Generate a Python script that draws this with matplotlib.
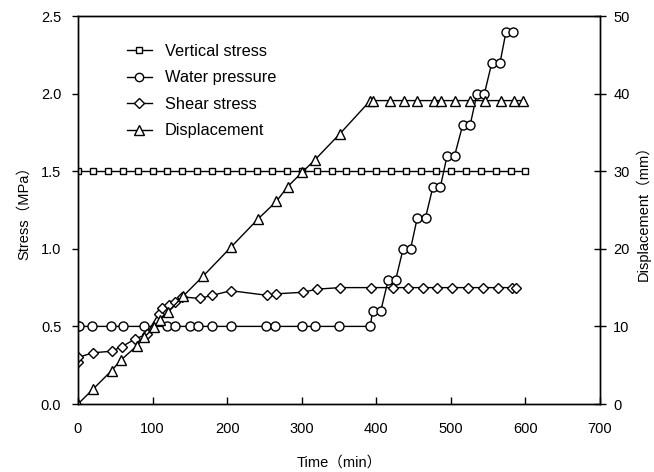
import matplotlib
matplotlib.use("Agg")
import matplotlib.pyplot as plt
from matplotlib.lines import Line2D

plt.rcParams['font.family'] = ['Liberation Sans', 'Noto Sans CJK SC', 'DejaVu Sans']

# Vertical stress (MPa)
vs_t = [0, 20, 40, 60, 80, 100, 120, 140, 160, 180, 200, 220, 240, 260, 280, 300,
        320, 340, 360, 380, 400, 420, 440, 460, 480, 500, 520, 540, 560, 580, 600]
vs_v = [1.5] * 31

# Water pressure (MPa)
wp_t = [0, 2, 19, 44, 60, 88, 120, 130, 150, 161, 180, 205, 252, 264, 300, 318, 350,
        392, 395, 406, 416, 426, 436, 446, 455, 466, 476, 486, 495, 505, 516, 526,
        535, 545, 555, 566, 574, 584]
wp_v = [0.5, 0.5, 0.5, 0.5, 0.5, 0.5, 0.5, 0.5, 0.5, 0.5, 0.5, 0.5, 0.5, 0.5, 0.5, 0.5, 0.5,
        0.5, 0.6, 0.6, 0.8, 0.8, 1.0, 1.0, 1.2, 1.2, 1.4, 1.4, 1.6, 1.6, 1.8, 1.8,
        2.0, 2.0, 2.2, 2.2, 2.4, 2.4]

# Shear stress (MPa)
ss_t = [0, 0, 20, 45, 59, 77, 92, 108, 112, 122, 130, 140, 163, 180, 205, 254, 266,
        302, 320, 352, 393, 423, 443, 462, 482, 502, 523, 543, 563, 582, 588]
ss_v = [0.27, 0.30, 0.33, 0.34, 0.37, 0.42, 0.45, 0.58, 0.62, 0.64, 0.66, 0.69, 0.68,
        0.70, 0.73, 0.70, 0.71, 0.72, 0.74, 0.75, 0.75, 0.75, 0.75, 0.75, 0.75, 0.75,
        0.75, 0.75, 0.75, 0.75, 0.75]

# Displacement (mm)
dp_t = [0, 20, 45, 58, 79, 89, 102, 110, 121, 141, 168, 205, 242, 266, 281, 301, 318,
        351, 392, 396, 418, 437, 455, 477, 487, 505, 526, 546, 567, 585, 597]
dp_v = [0, 1.9, 4.3, 5.7, 7.5, 8.6, 9.9, 10.8, 11.9, 13.9, 16.5, 20.2, 23.9, 26.1, 28.0,
        29.9, 31.5, 34.8, 39.1, 39.1, 39.1, 39.1, 39.1, 39.1, 39.1, 39.1, 39.1, 39.1,
        39.1, 39.1, 39.1]

labels = ['Vertical stress', 'Water pressure', 'Shear stress', 'Displacement']

fig = plt.figure(figsize=(6.54, 4.72), dpi=100)
ax = fig.add_axes([78/654, 1-404/472, (600-78)/654, (404-16)/472])
ax2 = ax.twinx()

kw = dict(color='black', lw=1.0, mfc='white', mec='black', mew=1.0)
h1, = ax.plot(vs_t, vs_v, marker='s', ms=4.5, **kw)
h2, = ax.plot(wp_t, wp_v, marker='o', ms=6.5, **kw)
h3, = ax.plot(ss_t, ss_v, marker='D', ms=5.5, **kw)
h4, = ax2.plot(dp_t, dp_v, marker='^', ms=7.5, **kw)

ax.set_xlim(0, 700)
ax.set_ylim(0, 2.5)
ax2.set_ylim(0, 50)
ax.set_xticks([0, 100, 200, 300, 400, 500, 600, 700])
ax.set_yticks([0, 0.5, 1.0, 1.5, 2.0, 2.5])
ax.set_yticklabels(['0.0', '0.5', '1.0', '1.5', '2.0', '2.5'])
ax2.set_yticks([0, 10, 20, 30, 40, 50])

ax.tick_params(axis='x', direction='in', length=5, labelsize=10.5, pad=13, width=1)
ax.tick_params(axis='y', direction='out', length=4, labelsize=10.5, pad=8, width=1)
ax2.tick_params(axis='y', direction='inout', length=9, labelsize=10.5, pad=5, width=1)
for a in (ax, ax2):
    for s in a.spines.values():
        s.set_linewidth(1.0)

ax.set_xlabel('Time（min）', fontsize=10.5, labelpad=14)
ax.set_ylabel('Stress（MPa）', fontsize=10.5, labelpad=7)
ax2.set_ylabel('Displacement（mm）', fontsize=10.5, labelpad=4)

leg_handles = [
    Line2D([], [], color='black', lw=1, marker='s', ms=4, mfc='white', mec='black'),
    Line2D([], [], color='black', lw=1, marker='o', ms=6, mfc='white', mec='black'),
    Line2D([], [], color='black', lw=1, marker='D', ms=5, mfc='white', mec='black'),
    Line2D([], [], color='black', lw=1, marker='^', ms=6.5, mfc='white', mec='black'),
]
ax2.legend(leg_handles, labels, loc='upper left', bbox_to_anchor=(0.094, 0.928),
           frameon=False, fontsize=11.8, handlelength=1.5, handletextpad=0.8,
           labelspacing=0.7, borderaxespad=0, borderpad=0)

fig.savefig('out.png', dpi=100)
